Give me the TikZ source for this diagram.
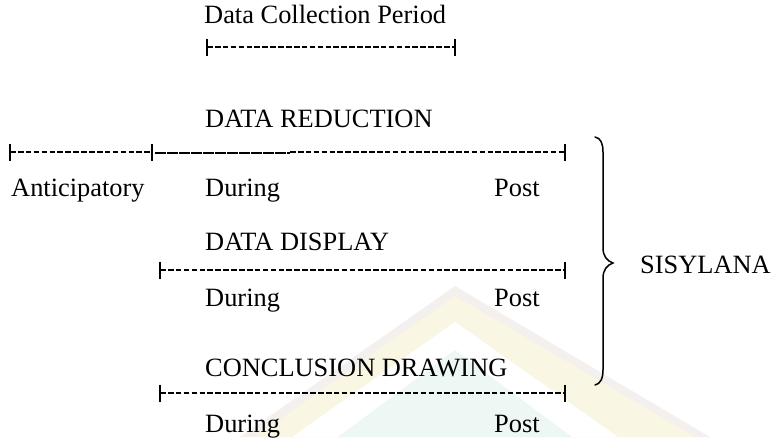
\documentclass[tikz,border=0pt]{standalone}
\usepackage{fontspec}
\setmainfont{Liberation Serif}
\usetikzlibrary{calc}
\definecolor{wmband}{HTML}{FAF6E4}
\definecolor{wmedge}{HTML}{F3F0EE}
\definecolor{wmcore}{HTML}{EDF8F5}
\tikzset{
  lbl/.style={anchor=base west, inner sep=0pt, font=\fontsize{26.4}{31}\selectfont},
  tickbar/.style={line width=1.8pt},
  dashrule/.style={line width=1.3pt, dash pattern=on 5.6pt off 2.3pt},
  longrule/.style={line width=1.3pt, dash pattern=on 11pt off 1pt},
  bracepen/.style={line width=1.5pt, line cap=round}
}
% a vertical bar of the timeline
\newcommand{\tbar}[1]{\draw[tickbar] ($(#1)+(0,-8.5)$) -- ($(#1)+(0,8.5)$);}
\begin{document}
\begin{tikzpicture}[x=1pt,y=-1pt]
\useasboundingbox (0,0) rectangle (771,437);

% faint emblem in the background
\fill[wmedge] (455,286) -- (240,437) -- (710,437) -- cycle;
\fill[wmband] (455,296) -- (255,437) -- (695,437) -- cycle;
\fill[white] (455,322) -- (292,437) -- (618,437) -- cycle;
\fill[wmcore] (455,350) -- (338,437) -- (572,437) -- cycle;

% timeline 1
\node[lbl] (dcp) at (204,23) {Data Collection Period};
\coordinate (a1) at (207,47);
\coordinate (b1) at (455,47);
\tbar{a1}\tbar{b1}
\draw[dashrule] (a1) -- (b1);

% data reduction
\node[lbl] (dr) at (205,127) {DATA REDUCTION};
\coordinate (a2) at (10,152);
\coordinate (m2) at (152,152);
\coordinate (k2) at (290,152);
\coordinate (b2) at (565,152);
\tbar{a2}\tbar{m2}\tbar{b2}
\draw[dashrule] (a2) -- (m2);
\draw[longrule] ($(m2)+(3,1)$) -- ($(k2)+(0,1)$);
\draw[dashrule] (k2) -- (b2);
\node[lbl] (ant) at (11,196) {Anticipatory};
\node[lbl] (dur1) at (205,196) {During};
\node[lbl] (post1) at (494,196) {Post};

% data display
\node[lbl] (dd) at (205,250) {DATA DISPLAY};
\coordinate (a3) at (160,270);
\coordinate (b3) at (565,270);
\tbar{a3}\tbar{b3}
\draw[dashrule] (a3) -- (b3);
\node[lbl] (dur2) at (205,306) {During};
\node[lbl] (post2) at (494,306) {Post};

% conclusion drawing
\node[lbl] (cd) at (205,376) {CONCLUSION DRAWING};
\coordinate (a4) at (160,393);
\coordinate (b4) at (565,393);
\tbar{a4}\tbar{b4}
\draw[dashrule] (a4) -- (b4);
\node[lbl] (dur3) at (205,432) {During};
\node[lbl] (post3) at (494,432) {Post};

% curly brace and its label
\draw[bracepen] (595,137) .. controls (601,138) and (603,144) .. (603,152)
  -- (603,248) .. controls (603,256) and (607,261) .. (613,263)
  .. controls (607,265) and (603,270) .. (603,278)
  -- (603,370) .. controls (603,379) and (600,384) .. (595,385);
\node[lbl] (sis) at (640,273) {SISYLANA};
\end{tikzpicture}
\end{document}
